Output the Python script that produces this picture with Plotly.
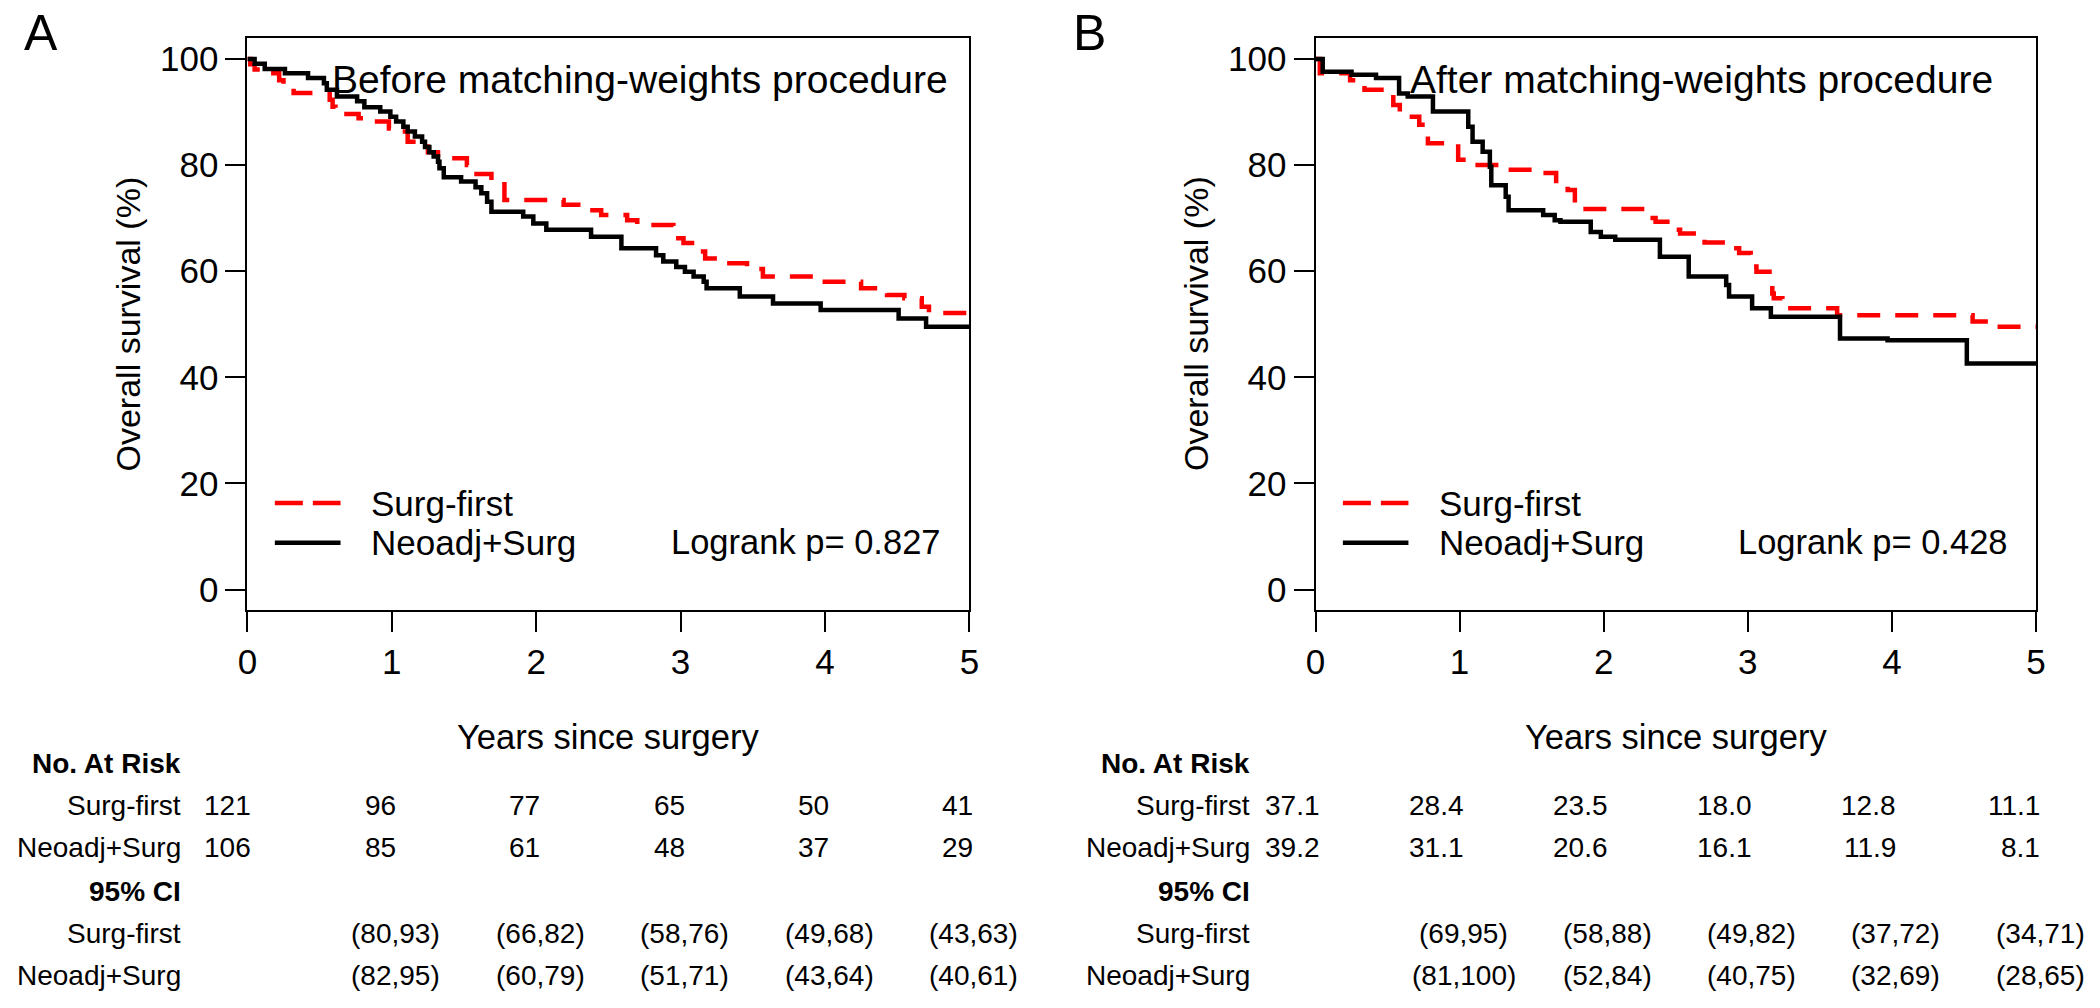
import plotly.graph_objects as go

# ---------------- data ----------------
year_ticks = [0, 1, 2, 3, 4, 5]
y_ticks = [0, 20, 40, 60, 80, 100]

# Panel A (before matching weights) Kaplan-Meier steps (years, survival %)
A_surg_t = [0, 0.02, 0.05, 0.10, 0.22, 0.25, 0.32, 0.57, 0.59, 0.61, 0.77, 0.82, 0.98, 1.02,
            1.11, 1.17, 1.25, 1.32, 1.52, 1.56, 1.69, 1.78, 2.19, 2.34, 2.45, 2.63, 2.70,
            2.95, 3.02, 3.11, 3.17, 3.30, 3.46, 3.57, 3.94, 4.25, 4.43, 4.55, 4.67, 4.72, 5.0]
A_surg_s = [100, 99.0, 98.0, 97.3, 96.0, 95.1, 93.6, 92.3, 91.0, 89.6, 88.8, 88.2, 86.9, 86.3,
            84.4, 83.5, 82.4, 81.3, 80.0, 78.3, 77.2, 73.4, 72.5, 71.5, 70.6, 69.6, 68.7,
            66.2, 65.3, 63.7, 62.4, 61.5, 60.4, 59.0, 58.0, 56.8, 55.5, 54.9, 53.3, 52.1, 52.1]

A_neo_t = [0, 0.05, 0.12, 0.26, 0.42, 0.53, 0.55, 0.62, 0.76, 0.81, 0.92, 0.99, 1.03, 1.08,
           1.11, 1.16, 1.21, 1.23, 1.26, 1.29, 1.32, 1.33, 1.36, 1.48, 1.58, 1.62, 1.66, 1.69,
           1.91, 1.98, 2.07, 2.38, 2.59, 2.83, 2.88, 2.97, 3.03, 3.09, 3.16, 3.18, 3.41, 3.64,
           3.97, 4.51, 4.70, 5.0]
A_neo_s = [100, 99.1, 98.1, 97.3, 96.4, 95.4, 94.2, 92.9, 92.0, 90.9, 90.1, 89.1, 88.2, 87.2,
           86.3, 85.4, 84.4, 83.4, 82.4, 81.6, 80.6, 79.4, 77.7, 76.9, 75.8, 74.7, 73.1, 71.2,
           70.3, 69.0, 67.8, 66.5, 64.3, 63.0, 61.8, 60.8, 59.9, 59.0, 58.0, 56.8, 55.2, 53.9,
           52.7, 51.1, 49.5, 49.5]

# Panel B (after matching weights)
B_surg_t = [0, 0.03, 0.24, 0.28, 0.34, 0.54, 0.585, 0.72, 0.76, 0.78, 0.99, 1.08, 1.32, 1.57,
            1.67, 1.75, 1.80, 2.34, 2.36, 2.46, 2.53, 2.67, 2.70, 2.87, 2.94, 3.02, 3.06, 3.17,
            3.18, 3.24, 3.62, 4.56, 4.71, 5.0]
B_surg_s = [100, 97.3, 96.0, 95.4, 94.2, 91.3, 89.1, 87.6, 86.3, 84.1, 81.0, 80.0, 79.1, 78.5,
            76.4, 75.3, 71.7, 70.0, 69.3, 67.8, 67.1, 65.9, 65.4, 64.3, 63.4, 60.9, 59.9, 55.8,
            54.9, 53.0, 51.7, 50.5, 49.5, 49.5]

B_neo_t = [0, 0.05, 0.25, 0.42, 0.58, 0.64, 0.815, 1.06, 1.09, 1.16, 1.21, 1.22, 1.32, 1.34,
           1.58, 1.66, 1.70, 1.91, 1.98, 2.08, 2.39, 2.59, 2.85, 2.87, 3.03, 3.16, 3.64, 3.97,
           4.52, 5.0]
B_neo_s = [100, 97.6, 97.0, 96.4, 93.5, 92.9, 90.1, 87.2, 84.4, 82.5, 79.7, 76.2, 74.0, 71.5,
           70.6, 69.6, 69.3, 67.4, 66.5, 65.9, 62.7, 59.0, 57.4, 55.2, 53.0, 51.4, 47.3, 47.0,
           42.6, 42.6]

group_names = ["Surg-first", "Neoadj+Surg"]
titles = ["Before matching-weights procedure", "After matching-weights procedure"]
pvalues = ["Logrank p= 0.827", "Logrank p= 0.428"]
panel_letters = ["A", "B"]

A_risk_surg = ["121", "96", "77", "65", "50", "41"]
A_risk_neo = ["106", "85", "61", "48", "37", "29"]
A_ci_surg = ["(80,93)", "(66,82)", "(58,76)", "(49,68)", "(43,63)"]
A_ci_neo = ["(82,95)", "(60,79)", "(51,71)", "(43,64)", "(40,61)"]

B_risk_surg = ["37.1", "28.4", "23.5", "18.0", "12.8", "11.1"]
B_risk_neo = ["39.2", "31.1", "20.6", "16.1", "11.9", "8.1"]
B_ci_surg = ["(69,95)", "(58,88)", "(49,82)", "(37,72)", "(34,71)"]
B_ci_neo = ["(81,100)", "(52,84)", "(40,75)", "(32,69)", "(28,65)"]

# ---------------- figure ----------------
W, H = 2100, 1008
FONT = "Liberation Sans, Arial, Helvetica, sans-serif"
RED = "#FF0000"
BLACK = "#000000"


def py(px):
    return 1 - px / H


fig = go.Figure()

panels = [
    dict(xa="x", ya="y", surg=(A_surg_t, A_surg_s), neo=(A_neo_t, A_neo_s),
         risk=(A_risk_surg, A_risk_neo), ci=(A_ci_surg, A_ci_neo)),
    dict(xa="x2", ya="y2", surg=(B_surg_t, B_surg_s), neo=(B_neo_t, B_neo_s),
         risk=(B_risk_surg, B_risk_neo), ci=(B_ci_surg, B_ci_neo)),
]

for i, p in enumerate(panels):
    fig.add_trace(go.Scatter(x=p["surg"][0], y=p["surg"][1], mode="lines", line_shape="hv",
                             line=dict(color=RED, width=4.5, dash="23px,15px"),
                             name=group_names[0], xaxis=p["xa"], yaxis=p["ya"], showlegend=False))
    fig.add_trace(go.Scatter(x=p["neo"][0], y=p["neo"][1], mode="lines", line_shape="hv",
                             line=dict(color=BLACK, width=4.5),
                             name=group_names[1], xaxis=p["xa"], yaxis=p["ya"], showlegend=False))

axis_common = dict(showline=True, mirror=True, linecolor=BLACK, linewidth=2,
                   ticks="outside", ticklen=20, tickwidth=2, tickcolor=BLACK,
                   showgrid=False, zeroline=False, automargin=False,
                   tickfont=dict(family=FONT, size=35, color=BLACK))

ydom = [py(610.3), py(37.7)]
fig.update_layout(
    width=W, height=H, margin=dict(l=0, r=0, t=0, b=0, pad=0), autosize=False,
    paper_bgcolor="white", plot_bgcolor="white",
    xaxis=dict(domain=[247.4 / W, 969.4 / W], range=[0, 5], tickvals=year_ticks, **axis_common),
    yaxis=dict(domain=ydom, range=[-3.92, 104.0], tickvals=y_ticks, **axis_common),
    xaxis2=dict(domain=[1315.5 / W, 2036 / W], range=[0, 5], tickvals=year_ticks,
                anchor="y2", **axis_common),
    yaxis2=dict(domain=ydom, range=[-3.92, 104.0], tickvals=y_ticks, anchor="x2", **axis_common),
    showlegend=False,
)

annotations = []
shapes = []

title_x = [2.72, 2.68]
letter_px = [41, 1089]
ylab_px = [127.5, 1196]

for i, p in enumerate(panels):
    xa, ya = p["xa"], p["ya"]
    # panel letter
    annotations.append(dict(text=panel_letters[i], x=letter_px[i] / W, y=py(33), xref="paper",
                            yref="paper", showarrow=False, xanchor="center", yanchor="middle",
                            font=dict(family=FONT, size=50, color=BLACK)))
    # title inside plot
    annotations.append(dict(text=titles[i], x=title_x[i], y=96.2, xref=xa, yref=ya,
                            showarrow=False, xanchor="center", yanchor="middle",
                            font=dict(family=FONT, size=39, color=BLACK)))
    # y-axis title
    annotations.append(dict(text="Overall survival (%)", x=ylab_px[i] / W, y=py(324),
                            xref="paper", yref="paper", showarrow=False, textangle=-90,
                            xanchor="center", yanchor="middle",
                            font=dict(family=FONT, size=34, color=BLACK)))
    # x-axis title
    annotations.append(dict(text="Years since surgery", x=2.5, y=py(737), xref=xa, yref="paper",
                            showarrow=False, xanchor="center", yanchor="middle",
                            font=dict(family=FONT, size=34.5, color=BLACK)))
    # legend
    shapes.append(dict(type="line", xref=xa, yref=ya, x0=0.19, x1=0.645, y0=16.3, y1=16.3,
                       line=dict(color=RED, width=4.5, dash="28px,10px")))
    shapes.append(dict(type="line", xref=xa, yref=ya, x0=0.19, x1=0.645, y0=8.8, y1=8.8,
                       line=dict(color=BLACK, width=4.5)))
    annotations.append(dict(text=group_names[0], x=0.84, y=16.3, xref=xa, yref=ya,
                            showarrow=False, xanchor="left", yanchor="middle",
                            font=dict(family=FONT, size=35, color=BLACK)))
    annotations.append(dict(text=group_names[1], x=0.84, y=8.8, xref=xa, yref=ya,
                            showarrow=False, xanchor="left", yanchor="middle",
                            font=dict(family=FONT, size=35, color=BLACK)))
    annotations.append(dict(text=pvalues[i], x=2.92, y=8.9, xref=xa, yref=ya,
                            showarrow=False, xanchor="left", yanchor="middle",
                            font=dict(family=FONT, size=34.5, color=BLACK)))

    # ---- risk table ----
    tfont = dict(family=FONT, size=28, color=BLACK)
    bfont = dict(family=FONT, size=28, color=BLACK, weight="bold")
    row_y = [763, 805, 847, 891, 933, 975]
    labels = [("<b>No. At Risk</b>", bfont), (group_names[0], tfont), (group_names[1], tfont),
              ("<b>95% CI</b>", bfont), (group_names[0], tfont), (group_names[1], tfont)]
    for (lab, f), ry in zip(labels, row_y):
        annotations.append(dict(text=lab, x=0, xshift=-64, y=py(ry), xref=xa, yref="paper",
                                showarrow=False, xanchor="right", yanchor="middle", font=f))
    for r, vals in enumerate(p["risk"]):
        for yr, v in zip(year_ticks, vals):
            annotations.append(dict(text=v, x=yr, xshift=6, y=py(row_y[1 + r]), xref=xa,
                                    yref="paper", showarrow=False, xanchor="right",
                                    yanchor="middle", font=tfont))
    for r, vals in enumerate(p["ci"]):
        for yr, v in zip(year_ticks[1:], vals):
            annotations.append(dict(text=v, x=yr, xshift=4, y=py(row_y[4 + r]), xref=xa,
                                    yref="paper", showarrow=False, xanchor="center",
                                    yanchor="middle", font=tfont))

fig.update_layout(annotations=annotations, shapes=shapes)
fig.write_html("out.html", config={"displayModeBar": False},
               post_script="document.body.style.margin='0';document.body.style.overflow='hidden';")
